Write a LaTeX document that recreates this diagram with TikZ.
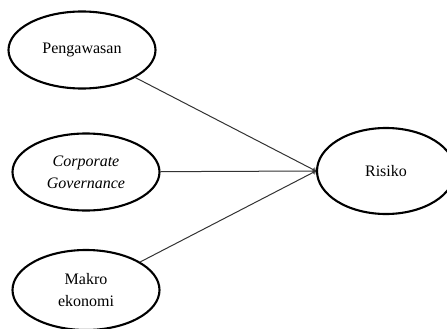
\documentclass[tikz,border=0pt]{standalone}
\usepackage{fontspec}
\setmainfont{Liberation Serif}
\usetikzlibrary{positioning,arrows,shapes.geometric}

\begin{document}
\begin{tikzpicture}
    [x=1pt,y=1pt,
      var/.style={ellipse,draw,line width=2.1pt,minimum width=147pt,
      minimum height=77pt,inner sep=0pt,align=center,
      font=\fontsize{16}{22}\selectfont},
      path/.style={->,line width=1pt,black!80}]

    \useasboundingbox (0,0) rectangle (447,-329);

    \node [var] (peng) at (82,-50) {Pengawasan};

    \node [var] (cg) at (86,-172) {\textit{Corporate}\\\textit{Governance}};

    \node [var,minimum height=80pt] (makro) at (86,-290) {Makro\\ekonomi};

    \node [var,minimum width=138pt,minimum height=86pt] (risk) at (386,-171) {Risiko};

    \draw [path] (peng) -- (risk.west);
    \draw [path] (cg) -- (risk.west);
    \draw [path] (makro) -- (risk.west);
  \end{tikzpicture}
\end{document}
